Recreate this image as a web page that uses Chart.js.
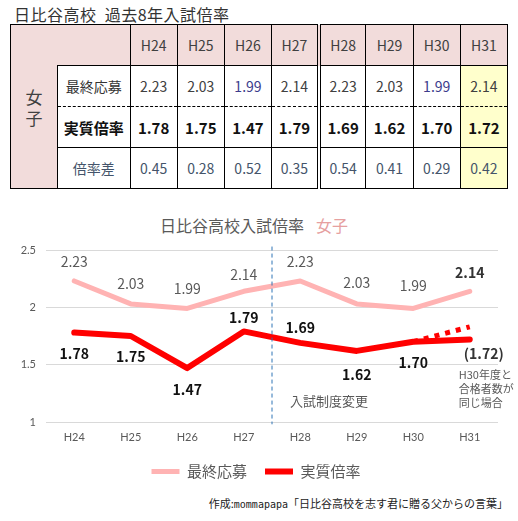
<!DOCTYPE html>
<html lang="ja">
<head>
<meta charset="UTF-8">
<title>日比谷高校入試倍率</title>
<style>
  body{margin:0;width:518px;height:521px;background:#fff;position:relative;font-family:"Noto Sans CJK JP",sans-serif;color:#404040;overflow:hidden;}
  #head{position:absolute;left:14px;top:2px;font-size:16px;color:#333;letter-spacing:0.5px;}
  table{position:absolute;left:10px;top:24px;border-collapse:collapse;table-layout:fixed;width:498px;}
  td{border:1.5px solid #000;text-align:center;font-size:14px;padding:0;height:40px;}
  td.side{background:#f2dcdb;width:46px;font-size:17px;line-height:21px;color:#333;}
  td.corner{background:#f2dcdb;border-left:hidden;width:72px;}
  tr.hd td{background:#f2dcdb;color:#404040;}
  td.lbl{color:#333;}
  tr.r1 td{border-bottom:1px dashed #000;}
  tr.r2 td{border-top:1px dashed #000;font-weight:bold;font-size:15px;color:#111;}
  tr.r3 td{color:#44546a;}
  td.sep{border-right:4px double #000;}
  td.y31{background:#ffffcc;}
  tr.hd td.y31{background:#f2dcdb;}
  .blu{color:#3c3c8c;}
  #ctitle{position:absolute;left:160px;top:213px;font-size:16px;color:#595959;}
  #ctitle span{color:#e6a0a0;margin-left:12px;}
  #box{position:absolute;left:0;top:205px;width:518px;height:284px;}
  #foot{position:absolute;right:10px;top:495px;font-size:11px;color:#222;}
  #foot span{font-family:"DejaVu Sans Mono",monospace;font-size:10px;}
</style>
</head>
<body>
<div id="head">日比谷高校&nbsp; 過去8年入試倍率</div>
<table id="tbl"></table>
<div id="ctitle">日比谷高校入試倍率<span>女子</span></div>
<div id="box"><canvas id="chart"></canvas></div>
<div id="foot">作成:<span>mommapapa</span>「日比谷高校を志す君に贈る父からの言葉」</div>

<script src="https://cdn.jsdelivr.net/npm/chart.js"></script>
<script>
const years = ['H24','H25','H26','H27','H28','H29','H30','H31'];
const applied = [2.23, 2.03, 1.99, 2.14, 2.23, 2.03, 1.99, 2.14];   // 最終応募
const actual = [1.78, 1.75, 1.47, 1.79, 1.69, 1.62, 1.70, 1.72];    // 実質倍率
const diff = [0.45, 0.28, 0.52, 0.35, 0.54, 0.41, 0.29, 0.42];      // 倍率差
const projected = [null, null, null, null, null, null, 1.70, 1.83]; // 点線
const yTicks = [1, 1.5, 2, 2.5];

// table
const fmt = v => v.toFixed(2);
let html = '<tr class="hd"><td class="side" rowspan="4">女<br>子</td><td class="corner"></td>';
years.forEach((y,i)=>{
  html += `<td class="${i==3?'sep':''} ${i==7?'y31':''}">${y}</td>`;
});
html += '</tr>';
const rows = [['r1','最終応募',applied],['r2','実質倍率',actual],['r3','倍率差',diff]];
rows.forEach(r=>{
  html += `<tr class="${r[0]}"><td class="lbl">${r[1]}</td>`;
  r[2].forEach((v,i)=>{
    let cls = (i==3?'sep ':'') + (i==7?'y31 ':'') + (r[0]=='r1' && v==1.99 ? 'blu':'');
    html += `<td class="${cls}">${fmt(v)}</td>`;
  });
  html += '</tr>';
});
document.getElementById('tbl').innerHTML = html;

// label offsets (px) for data values
const appliedOff = [-19,-20,-20,-17,-19,-21,-23,-19];
const actualOff = [21,21,22,-14,-15,24,21,14];

const labelPlugin = {
  id:'labels',
  afterDatasetsDraw(chart){
    const ctx = chart.ctx;
    ctx.save();
    ctx.textAlign = 'center';
    ctx.textBaseline = 'middle';
    chart.getDatasetMeta(0).data.forEach((p,i)=>{
      ctx.font = (i==7?'bold ':'') + '14px "Noto Sans CJK JP"';
      ctx.fillStyle = i==7 ? '#333' : '#595959';
      ctx.fillText(fmt(applied[i]), p.x, p.y + appliedOff[i]);
    });
    chart.getDatasetMeta(1).data.forEach((p,i)=>{
      ctx.font = 'bold 14px "Noto Sans CJK JP"';
      ctx.fillStyle = i==7 ? '#333' : '#111';
      const t = i==7 ? '(' + fmt(actual[i]) + ')' : fmt(actual[i]);
      ctx.fillText(t, p.x + (i==7?14:0), p.y + actualOff[i]);
    });

    // 入試制度変更 line + notes
    const xs = chart.scales.x, ys = chart.scales.y;
    const mx = (xs.getPixelForValue(3) + xs.getPixelForValue(4)) / 2;
    ctx.strokeStyle = '#2e75b6';
    ctx.lineWidth = 1;
    ctx.setLineDash([4,3]);
    ctx.beginPath();
    ctx.moveTo(mx, ys.getPixelForValue(2.53));
    ctx.lineTo(mx, ys.getPixelForValue(0.98));
    ctx.stroke();
    ctx.setLineDash([]);
    ctx.fillStyle = '#595959';
    ctx.textAlign = 'left';
    ctx.font = '13px "Noto Sans CJK JP"';
    ctx.fillText('入試制度変更', mx + 18, ys.getPixelForValue(1.18));
    ctx.font = '11px "Noto Sans CJK JP"';
    const nx = xs.getPixelForValue(7) - 11;
    ['H30年度と','合格者数が','同じ場合'].forEach((t,k)=>{
      ctx.fillText(t, nx, ys.getPixelForValue(1.41) + k*14);
    });
    ctx.restore();
  }
};

new Chart(document.getElementById('chart'), {
  type:'line',
  data:{
    labels: years,
    datasets:[
      {label:'最終応募', data:applied, borderColor:'#ffb3b3', backgroundColor:'#ffb3b3', borderWidth:5, pointRadius:0, tension:0, borderCapStyle:'round', borderJoinStyle:'round'},
      {label:'実質倍率', data:actual, borderColor:'#ff0000', backgroundColor:'#ff0000', borderWidth:6, pointRadius:0, tension:0, borderCapStyle:'round', borderJoinStyle:'round'},
      {label:'点線', data:projected, borderColor:'#ff0000', borderWidth:5, borderDash:[5,6], pointRadius:0, tension:0}
    ]
  },
  options:{
    responsive:true,
    maintainAspectRatio:false,
    animation:false,
    layout:{padding:{top:45,right:20,left:14,bottom:0}},
    plugins:{
      title:{display:false},
      tooltip:{enabled:false},
      legend:{
        position:'bottom',
        labels:{
          usePointStyle:true, pointStyle:'line', pointStyleWidth:28,
          color:'#595959', font:{size:15, family:'"Noto Sans CJK JP"'}, padding:18,
          filter: item => item.datasetIndex < 2
        }
      }
    },
    scales:{
      x:{
        offset:true,
        grid:{display:false, drawTicks:false},
        border:{display:false},
        ticks:{color:'#595959', font:{size:11, family:'Lato'}, padding:9},
        afterFit(a){ a.height = 24; }
      },
      y:{
        min:1, max:2.5,
        afterBuildTicks(a){ a.ticks = yTicks.map(v=>({value:v})); },
        ticks:{color:'#595959', font:{size:11, family:'Lato'}, padding:10, callback:v=>String(v)},
        grid:{color:'#d9d9d9', drawTicks:false},
        border:{display:false},
        afterFit(a){ a.width = 32; }
      }
    }
  },
  plugins:[labelPlugin]
});
</script>
</body>
</html>
